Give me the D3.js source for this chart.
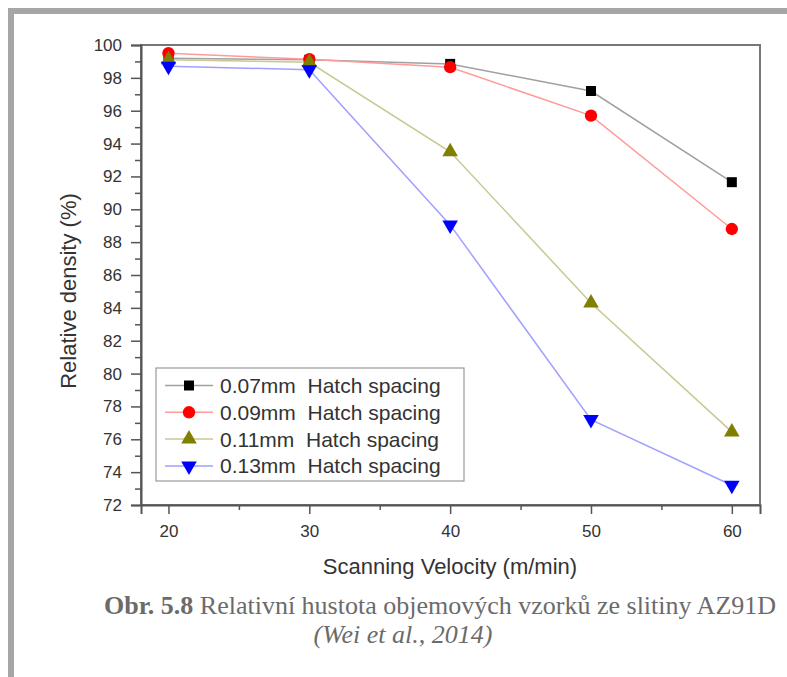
<!DOCTYPE html>
<meta charset="utf-8" />
<script src="https://d3js.org/d3.v7.min.js"></script>
<style>
  body { margin: 0; background: #fff; }
  svg { display: block; }
</style>
<body>
<div id="chart"></div>
<script>
  // scanning velocity (m/min)
  const velocity = [20, 30, 40, 50, 60];
  const seriesNames = ["0.07mm  Hatch spacing", "0.09mm  Hatch spacing", "0.11mm  Hatch spacing", "0.13mm  Hatch spacing"];
  // relative density (%)
  const hatch007 = [99.2, 99.1, 98.85, 97.2, 91.65];
  const hatch009 = [99.5, 99.13, 98.65, 95.7, 88.8];
  const hatch011 = [99.1, 98.95, 93.5, 84.3, 76.45];
  const hatch013 = [98.7, 98.5, 89.05, 77.2, 73.2];
  const yTicks = [72, 74, 76, 78, 80, 82, 84, 86, 88, 90, 92, 94, 96, 98, 100];
  const xTicks = [20, 30, 40, 50, 60];

  const W = 787, H = 677;
  const svg = d3.select("#chart").append("svg").attr("width", W).attr("height", H);

  // grey page frame
  svg.append("rect").attr("x", 8).attr("y", 8).attr("width", 6).attr("height", H - 8).attr("fill", "#a6a6a6");
  svg.append("rect").attr("x", 8).attr("y", 8).attr("width", W - 8).attr("height", 6).attr("fill", "#a6a6a6");

  const pLeft = 141, pRight = 760, pTop = 45, pBottom = 505;
  const x = d3.scaleLinear().domain([18.05, 62]).range([pLeft, pRight]);
  const y = d3.scaleLinear().domain([72, 100]).range([pBottom, pTop]);

  const axisColor = "#555";
  // plot frame
  svg.append("rect")
    .attr("x", pLeft).attr("y", pTop)
    .attr("width", pRight - pLeft).attr("height", pBottom - pTop)
    .attr("fill", "none").attr("stroke", "#777").attr("stroke-width", 2);

  // y axis
  svg.append("g").attr("transform", "translate(" + pLeft + ",0)")
    .call(d3.axisLeft(y).tickValues(yTicks).tickSize(10).tickPadding(9).tickFormat(d3.format("d")));
  svg.append("g").attr("transform", "translate(" + pLeft + ",0)")
    .call(d3.axisLeft(y).tickValues(d3.range(73, 100, 2)).tickSize(6).tickFormat(""))
    .call(g => g.select(".domain").remove());
  // x axis
  svg.append("g").attr("transform", "translate(0," + pBottom + ")")
    .call(d3.axisBottom(x).tickValues(xTicks).tickSize(9).tickPadding(11).tickFormat(d3.format("d")));
  svg.append("g").attr("transform", "translate(0," + pBottom + ")")
    .call(d3.axisBottom(x).tickValues([25, 35, 45, 55]).tickSize(5).tickFormat(""))
    .call(g => g.select(".domain").remove());

  svg.selectAll(".domain").attr("stroke", axisColor).attr("stroke-width", 2);
  svg.selectAll(".tick line").attr("stroke", axisColor).attr("stroke-width", 1.5);
  svg.selectAll(".tick text")
    .attr("fill", "#333")
    .style("font-family", "Liberation Sans, Arial, sans-serif")
    .style("font-size", "17px");

  // axis titles
  svg.append("text")
    .attr("x", 450).attr("y", 574)
    .attr("text-anchor", "middle")
    .attr("fill", "#333")
    .style("font-family", "Liberation Sans, Arial, sans-serif")
    .style("font-size", "22px")
    .text("Scanning Velocity (m/min)");
  svg.append("text")
    .attr("transform", "translate(76,291) rotate(-90)")
    .attr("text-anchor", "middle")
    .attr("fill", "#333")
    .style("font-family", "Liberation Sans, Arial, sans-serif")
    .style("font-size", "22px")
    .text("Relative density (%)");

  const series = [
    { name: seriesNames[0], values: hatch007, line: "#a0a0a0", fill: "#000000", shape: d3.symbolSquare, size: 100, rot: 0 },
    { name: seriesNames[1], values: hatch009, line: "#ff9a9a", fill: "#ff0000", shape: d3.symbolCircle, size: 120, rot: 0 },
    { name: seriesNames[2], values: hatch011, line: "#c8c890", fill: "#808000", shape: d3.symbolTriangle, size: 105, rot: 0 },
    { name: seriesNames[3], values: hatch013, line: "#a0a0ff", fill: "#0000ff", shape: d3.symbolTriangle, size: 105, rot: 180 }
  ];

  const line = d3.line().x((d, i) => x(velocity[i])).y(d => y(d));

  series.forEach(s => {
    svg.append("path")
      .datum(s.values)
      .attr("d", line)
      .attr("fill", "none")
      .attr("stroke", s.line)
      .attr("stroke-width", 1.5);
  });
  series.forEach(s => {
    svg.selectAll(null)
      .data(s.values)
      .enter()
      .append("path")
      .attr("d", d3.symbol().type(s.shape).size(s.size))
      .attr("transform", (d, i) => "translate(" + x(velocity[i]) + "," + y(d) + ") rotate(" + s.rot + ")")
      .attr("fill", s.fill);
  });

  // legend
  const legend = svg.append("g");
  legend.append("rect")
    .attr("x", 156).attr("y", 368).attr("width", 308).attr("height", 113)
    .attr("fill", "#fff").attr("stroke", "#999").attr("stroke-width", 1.2);
  series.forEach((s, i) => {
    const ly = 385.5 + i * 26.8;
    legend.append("line")
      .attr("x1", 165).attr("x2", 213).attr("y1", ly).attr("y2", ly)
      .attr("stroke", s.line).attr("stroke-width", 1.5);
    legend.append("path")
      .attr("d", d3.symbol().type(s.shape).size(s.size))
      .attr("transform", "translate(189," + ly + ") rotate(" + s.rot + ")")
      .attr("fill", s.fill);
    legend.append("text")
      .attr("x", 220).attr("y", ly + 7.5)
      .attr("fill", "#333")
      .style("font-family", "Liberation Sans, Arial, sans-serif")
      .style("font-size", "21px")
      .style("white-space", "pre")
      .text(s.name);
  });

  // caption
  const cap = svg.append("text")
    .attr("x", 440).attr("y", 614)
    .attr("text-anchor", "middle")
    .attr("fill", "#6b6b6b")
    .style("font-family", "Liberation Serif, Times New Roman, serif")
    .style("font-size", "26px");
  cap.append("tspan").attr("font-weight", "bold").text("Obr. 5.8");
  cap.append("tspan").text(" Relativní hustota objemových vzorků ze slitiny AZ91D");
  svg.append("text")
    .attr("x", 403).attr("y", 643)
    .attr("text-anchor", "middle")
    .attr("fill", "#6b6b6b")
    .style("font-family", "Liberation Serif, Times New Roman, serif")
    .style("font-size", "26px")
    .style("font-style", "italic")
    .text("(Wei et al., 2014)");
</script>
</body>
